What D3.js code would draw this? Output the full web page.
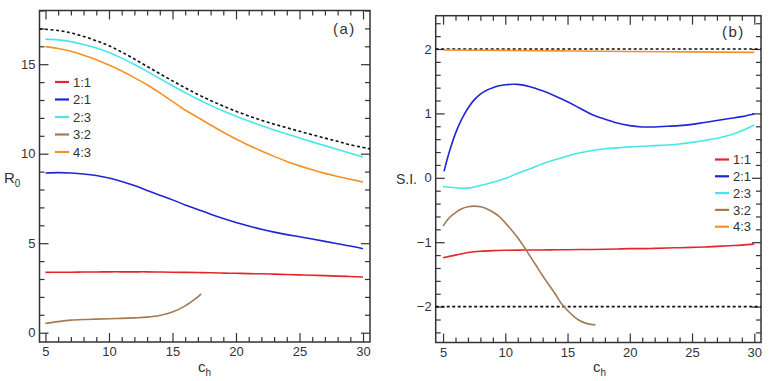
<!DOCTYPE html>
<html>
<head>
<meta charset="utf-8">
<script src="https://cdn.jsdelivr.net/npm/d3@7.9.0/dist/d3.min.js"></script>
<style>
body { margin: 0; background: #fff; }
svg text { font-family: "Liberation Sans", Arial, sans-serif; fill: #333; }
</style>
</head>
<body>
<svg id="chart" width="771" height="381"></svg>
<script>
// legend entries and their colours
const ratios = ['1:1', '2:1', '2:3', '3:2', '4:3'];
const ratioColors = ['#e3262b', '#1f26d4', '#48e6ea', '#a57a52', '#f39225'];

// tick labels
const chTicks = [5, 10, 15, 20, 25, 30];
const r0Ticks = [0, 5, 10, 15];
const siTicks = [-2, -1, 0, 1, 2];

// c_h grid shared by most curves
const chInt = [5, 6, 7, 8, 9, 10, 11, 12, 13, 14, 15, 16, 17, 18, 19, 20, 21, 22, 23, 24, 25, 26, 27, 28, 29, 30];

// ---- panel (a): R0 ----
const r0_11 = [3.37, 3.38, 3.38, 3.39, 3.39, 3.40, 3.40, 3.40, 3.40, 3.39, 3.38, 3.37, 3.36, 3.35, 3.33, 3.32, 3.30, 3.29, 3.27, 3.25, 3.23, 3.21, 3.19, 3.16, 3.14, 3.11];
const r0_21 = [8.92, 8.94, 8.92, 8.87, 8.78, 8.64, 8.45, 8.22, 7.95, 7.68, 7.42, 7.14, 6.88, 6.62, 6.38, 6.16, 5.96, 5.78, 5.62, 5.48, 5.36, 5.23, 5.10, 4.97, 4.84, 4.69];
const r0_23 = [16.40, 16.36, 16.26, 16.10, 15.90, 15.65, 15.34, 14.98, 14.60, 14.20, 13.80, 13.41, 13.04, 12.70, 12.38, 12.09, 11.82, 11.57, 11.33, 11.10, 10.88, 10.66, 10.45, 10.24, 10.03, 9.82];
const r0_43 = [15.98, 15.88, 15.72, 15.50, 15.25, 14.95, 14.62, 14.25, 13.85, 13.40, 12.92, 12.44, 12.02, 11.60, 11.20, 10.82, 10.47, 10.15, 9.85, 9.57, 9.32, 9.10, 8.90, 8.73, 8.57, 8.42];
const r0_32_ch = [5, 6, 7, 8, 9, 10, 11, 12, 13, 14, 15, 16, 16.5, 17, 17.25];
const r0_32 = [0.52, 0.62, 0.70, 0.74, 0.76, 0.78, 0.80, 0.83, 0.87, 0.96, 1.15, 1.50, 1.74, 2.00, 2.18];
const r0Bound_ch = [4.53, 6, 7, 8, 9, 10, 11, 12, 13, 14, 15, 16, 17, 18, 19, 20, 21, 22, 23, 24, 25, 26, 27, 28, 29, 30.55];
const r0Bound = [16.97, 16.88, 16.75, 16.55, 16.31, 16.03, 15.68, 15.29, 14.88, 14.47, 14.07, 13.68, 13.31, 12.97, 12.66, 12.37, 12.11, 11.87, 11.65, 11.45, 11.25, 11.06, 10.87, 10.69, 10.50, 10.27];

// ---- panel (b): S.I. ----
const si_11 = [-1.24, -1.20, -1.16, -1.14, -1.13, -1.125, -1.122, -1.12, -1.12, -1.118, -1.116, -1.114, -1.112, -1.11, -1.105, -1.10, -1.10, -1.095, -1.09, -1.085, -1.08, -1.075, -1.065, -1.055, -1.045, -1.03];
const si_21_ch = [5.08, 5.5, 6, 6.5, 7, 7.5, 8, 8.5, 9, 9.5, 10, 11, 12, 13, 14, 15, 16, 17, 18, 19, 20, 21, 22, 23, 24, 25, 26, 27, 28, 29, 30];
const si_21 = [0.10, 0.40, 0.69, 0.91, 1.08, 1.21, 1.30, 1.36, 1.40, 1.43, 1.445, 1.45, 1.415, 1.35, 1.27, 1.18, 1.08, 0.98, 0.91, 0.85, 0.81, 0.79, 0.79, 0.80, 0.81, 0.83, 0.86, 0.89, 0.92, 0.95, 0.99];
const si_23 = [-0.135, -0.155, -0.16, -0.12, -0.07, -0.01, 0.07, 0.14, 0.22, 0.28, 0.34, 0.39, 0.425, 0.45, 0.465, 0.48, 0.49, 0.50, 0.51, 0.525, 0.55, 0.58, 0.615, 0.66, 0.73, 0.82];
const si_32_ch = [5, 5.5, 6, 6.5, 7, 7.5, 8, 8.5, 9, 9.5, 10, 10.5, 11, 11.5, 12, 12.5, 13, 13.5, 14, 14.5, 15, 15.5, 16, 16.5, 17, 17.25];
const si_32 = [-0.75, -0.62, -0.54, -0.48, -0.45, -0.44, -0.45, -0.48, -0.53, -0.60, -0.70, -0.81, -0.93, -1.07, -1.22, -1.37, -1.52, -1.66, -1.80, -1.95, -2.06, -2.15, -2.22, -2.26, -2.28, -2.28];
const si_43_ch = [5, 10, 15, 20, 25, 30];
const si_43 = [1.985, 1.978, 1.97, 1.962, 1.955, 1.948];
const siBound_ch = [4.41, 30.54];
const siUpper = [2, 2];
const siLower = [-2, -2];

const svg = d3.select('#chart');

function zip(xs, ys) {
    return xs.map((x, i) => [x, ys[i]]);
}

function drawPanel(p) {
    const x = d3.scaleLinear().domain(p.xDomain).range([p.left, p.right]);
    const y = d3.scaleLinear().domain(p.yDomain).range([p.bottom, p.top]);
    const g = svg.append('g');

    const xMinor = d3.range(5, 31, 1).filter(v => !chTicks.includes(v));
    const yMinor = p.yMinor.filter(v => !p.yTicks.includes(v));

    // inward ticks on all four sides
    const axes = [
        [d3.axisBottom(x), p.bottom, 'x', true],
        [d3.axisTop(x), p.top, 'x', false],
        [d3.axisLeft(y), p.left, 'y', true],
        [d3.axisRight(y), p.right, 'y', false]
    ];
    axes.forEach(([ax, pos, dir, labelled]) => {
        const major = dir === 'x' ? chTicks : p.yTicks;
        const minor = dir === 'x' ? xMinor : yMinor;
        const tr = dir === 'x' ? `translate(0,${pos})` : `translate(${pos},0)`;
        g.append('g').attr('transform', tr)
            .call(ax.tickValues(minor).tickSize(-5).tickFormat(''))
            .call(s => s.select('.domain').remove());
        const a = g.append('g').attr('transform', tr)
            .call(ax.tickValues(major).tickSize(-9).tickPadding(dir === 'x' ? 5 : 4)
                .tickFormat(labelled ? d3.format('') : ''))
            .call(s => s.select('.domain').remove());
        a.selectAll('text').attr('font-size', 13).style('fill', '#333');
    });
    g.selectAll('.tick line').attr('stroke', '#333').attr('stroke-width', 1.2);

    g.append('rect')
        .attr('x', p.left).attr('y', p.top)
        .attr('width', p.right - p.left).attr('height', p.bottom - p.top)
        .attr('fill', 'none').attr('stroke', '#333').attr('stroke-width', 1.5);

    const line = d3.line()
        .x(d => x(d[0]))
        .y(d => y(d[1]))
        .curve(d3.curveCatmullRom.alpha(0.5));

    p.bounds.forEach(b => {
        g.append('path').attr('d', line(b))
            .attr('fill', 'none').attr('stroke', '#111')
            .attr('stroke-width', 1.6).attr('stroke-dasharray', '3,2.5');
    });

    p.series.forEach((s, i) => {
        g.append('path').attr('d', line(s))
            .attr('fill', 'none').attr('stroke', ratioColors[i])
            .attr('stroke-width', 1.6);
    });

    // legend
    ratios.forEach((r, i) => {
        const ly = p.legend.y + i * p.legend.step;
        g.append('line')
            .attr('x1', p.legend.x).attr('x2', p.legend.x + 14)
            .attr('y1', ly).attr('y2', ly)
            .attr('stroke', ratioColors[i]).attr('stroke-width', 2.2);
        g.append('text')
            .attr('x', p.legend.x + 18).attr('y', ly).attr('dy', '0.36em')
            .attr('font-size', 13).text(r);
    });

    g.append('text')
        .attr('x', p.tag.x).attr('y', p.tag.y)
        .attr('font-size', 15).attr('letter-spacing', 1.5)
        .text(p.tag.text);

    const xl = g.append('text')
        .attr('x', p.xLabelX).attr('y', 372).attr('font-size', 15);
    xl.append('tspan').text('c');
    xl.append('tspan').attr('font-size', 10).attr('dy', 4).text('h');
}

drawPanel({
    left: 39.5, right: 370, top: 10.5, bottom: 342,
    xDomain: [4.53, 30.55], yDomain: [-0.52, 18.0],
    yTicks: r0Ticks, yMinor: d3.range(0, 19, 1),
    series: [
        zip(chInt, r0_11), zip(chInt, r0_21), zip(chInt, r0_23),
        zip(r0_32_ch, r0_32), zip(chInt, r0_43)
    ],
    bounds: [zip(r0Bound_ch, r0Bound)],
    legend: { x: 55, y: 82, step: 17.5 },
    tag: { x: 333, y: 34, text: '(a)' },
    xLabelX: 198
});

drawPanel({
    left: 435.7, right: 761, top: 15.7, bottom: 342.5,
    xDomain: [4.41, 30.54], yDomain: [-2.557, 2.517],
    yTicks: siTicks, yMinor: d3.range(-24, 25, 2).map(v => v / 10),
    series: [
        zip(chInt, si_11), zip(si_21_ch, si_21), zip(chInt, si_23),
        zip(si_32_ch, si_32), zip(si_43_ch, si_43)
    ],
    bounds: [zip(siBound_ch, siUpper), zip(siBound_ch, siLower)],
    legend: { x: 715, y: 159.5, step: 16.8 },
    tag: { x: 722, y: 37, text: '(b)' },
    xLabelX: 593
});

// y-axis titles
const r0Label = svg.append('text').attr('x', 4).attr('y', 183).attr('font-size', 15);
r0Label.append('tspan').text('R');
r0Label.append('tspan').attr('font-size', 10).attr('dy', 4).text('0');

svg.append('text').attr('x', 396).attr('y', 184).attr('font-size', 14).text('S.I.');
</script>
</body>
</html>
